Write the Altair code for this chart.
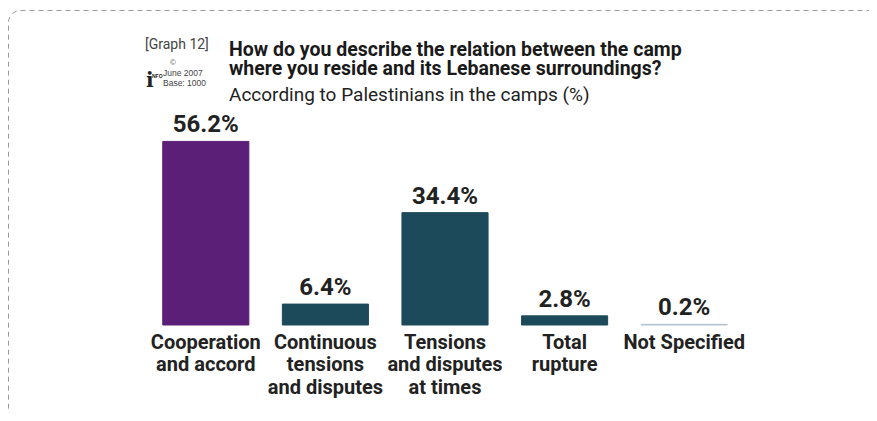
import altair as alt
import pandas as pd

categories = ["Cooperation\nand accord", "Continuous\ntensions\nand disputes",
              "Tensions\nand disputes\nat times", "Total\nrupture", "Not Specified"]
values = [56.2, 6.4, 34.4, 2.8, 0.2]
labels = ["56.2%", "6.4%", "34.4%", "2.8%", "0.2%"]
colors = ["#5c1f78", "#1d4a5b", "#1d4a5b", "#1d4a5b", "#b3c3cf"]

df = pd.DataFrame({"cat": categories, "val": values, "lab": labels})

FONT = "Roboto"

x = alt.X("cat:N", sort=categories, title=None,
          scale=alt.Scale(paddingInner=0.28, paddingOuter=0.14),
          axis=alt.Axis(labelExpr="split(datum.label, '\\n')", labelAngle=0,
                        labelFont=FONT, labelFontWeight="bold", labelFontSize=20,
                        labelColor="#222222", labelLineHeight=22.5, labelPadding=7,
                        labelBaseline="top", domain=False, ticks=False, grid=False))
y = alt.Y("val:Q", scale=alt.Scale(domain=[0, 60]), axis=None)

bars = alt.Chart(df).mark_bar(strokeWidth=1).encode(
    x=x, y=y,
    color=alt.Color("cat:N", scale=alt.Scale(domain=categories, range=colors), legend=None),
    stroke=alt.Color("cat:N", scale=alt.Scale(domain=categories, range=colors), legend=None),
)

vals = alt.Chart(df).mark_text(font=FONT, fontWeight="bold", fontSize=24,
                               color="#222222", dy=-4, baseline="bottom").encode(
    x=x, y=y, text="lab:N")

def txt(t, xx, yy, size, weight="normal", color="#222222", font=FONT):
    return alt.Chart(pd.DataFrame({"t": [t]})).mark_text(
        align="left", baseline="alphabetic", fontSize=size, fontWeight=weight,
        color=color, font=font).encode(x=alt.value(xx), y=alt.value(yy), text="t:N")

title1 = txt("How do you describe the relation between the camp", 83, -73, 19.5, "bold", "#1a1a1a")
title2 = txt("where you reside and its Lebanese surroundings?", 83, -54.5, 19.5, "bold", "#1a1a1a")
subtitle = txt("According to Palestinians in the camps (%)", 83, -28, 19, "normal", "#222222")
graph = txt("[Graph 12]", -1, -80, 14, "normal", "#444444")
june = txt("June 2007", 17, -53, 8.5, "normal", "#444444", "Liberation Sans")
base = txt("Base: 1000", 17, -43, 8.5, "normal", "#444444", "Liberation Sans")
copy = txt("©", 24, -64, 8, "normal", "#555555", "Liberation Sans")
logo = txt("i", 0, -42, 20, "bold", "#222222", "DejaVu Serif")
logo2 = txt("NFO", 6, -51, 5, "bold", "#222222", "Liberation Sans")

border = alt.Chart(pd.DataFrame({"a": [0]})).mark_rect(
    fill=None, filled=False, stroke="#9a9a9a", strokeWidth=1, strokeDash=[5, 4], cornerRadius=12
).encode(x=alt.value(-137.5), x2=alt.value(745), y=alt.value(-118.5), y2=alt.value(292))

chart = alt.layer(border, bars, vals, title1, title2, subtitle, graph, june, base, copy, logo, logo2).properties(
    width=598, height=196,
    autosize=alt.AutoSizeParams(type="none"),
    padding={"left": 138, "top": 121, "right": 125, "bottom": 88},
    view=alt.ViewBackground(strokeOpacity=0, strokeWidth=0, stroke="transparent"),
).configure_view(strokeWidth=0, strokeOpacity=0).configure(background="white")

chart.save("out.html", embed_options={"renderer": "svg", "actions": False})
